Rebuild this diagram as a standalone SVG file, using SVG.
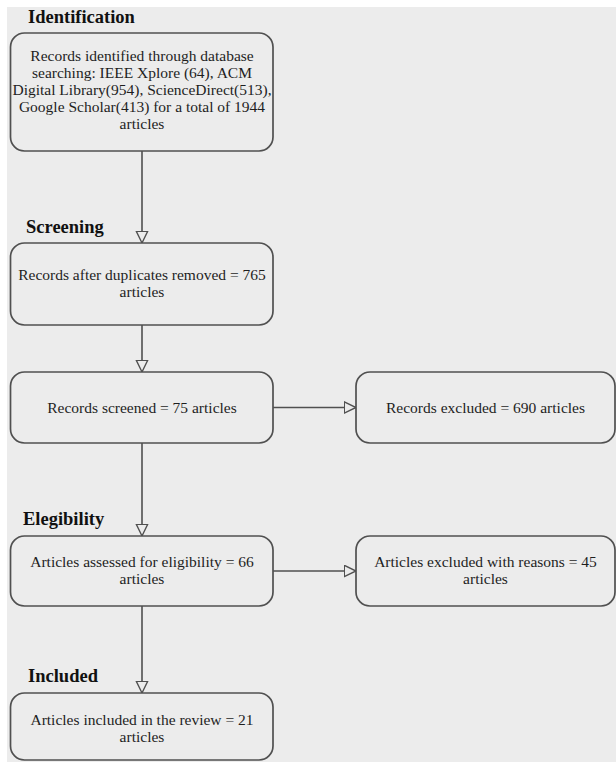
<svg xmlns="http://www.w3.org/2000/svg" width="616" height="762" viewBox="0 0 616 762">
<style>
.box{fill:#ececec;stroke:#505050;stroke-width:1.7}
.t{font-family:"Liberation Serif","Times New Roman",serif;font-size:15.5px;fill:#1e1e1e;text-anchor:middle}
.h{font-family:"Liberation Serif","Times New Roman",serif;font-size:18.5px;font-weight:bold;fill:#111}
.c{stroke:#505050;stroke-width:1.6;fill:none;marker-end:url(#arr)}
</style>
<defs>
<marker id="arr" markerUnits="userSpaceOnUse" markerWidth="15" markerHeight="14" refX="12.5" refY="6.5" orient="auto">
<path d="M0.8,0.8 L12.5,6.5 L0.8,12.2 Z" fill="#ececec" stroke="#505050" stroke-width="1.4"/>
</marker>
</defs>
<rect x="0" y="0" width="616" height="762" fill="#ffffff"/>
<rect x="7" y="7" width="609" height="755" fill="#ececec"/>

<g id="connectors">
<line class="c" x1="142" y1="151" x2="142" y2="243"/>
<line class="c" x1="142" y1="325" x2="142" y2="372"/>
<line class="c" x1="142" y1="443" x2="142" y2="536"/>
<line class="c" x1="142" y1="606" x2="142" y2="693"/>
<line class="c" x1="273" y1="407.5" x2="356" y2="407.5"/>
<line class="c" x1="273" y1="571" x2="356" y2="571"/>
</g>

<g id="label-identification"><text class="h" x="28" y="23">Identification</text></g>
<g id="label-screening"><text class="h" x="26" y="233">Screening</text></g>
<g id="label-eligibility"><text class="h" x="23" y="525">Elegibility</text></g>
<g id="label-included"><text class="h" x="28" y="682">Included</text></g>

<g id="identified">
<rect class="box" x="10.5" y="33" width="262.5" height="118" rx="14"/>
<text class="t" x="142" y="61">Records identified through database</text>
<text class="t" x="142" y="78">searching: IEEE Xplore (64), ACM</text>
<text class="t" x="142" y="95">Digital Library(954), ScienceDirect(513),</text>
<text class="t" x="142" y="112">Google Scholar(413) for a total of 1944</text>
<text class="t" x="142" y="129">articles</text>
</g>

<g id="deduplicated">
<rect class="box" x="10.5" y="243" width="262.5" height="82" rx="14"/>
<text class="t" x="142" y="280">Records after duplicates removed = 765</text>
<text class="t" x="142" y="297">articles</text>
</g>

<g id="screened">
<rect class="box" x="10.5" y="372" width="262.5" height="71" rx="14"/>
<text class="t" x="142" y="413">Records screened = 75 articles</text>
</g>

<g id="excluded">
<rect class="box" x="356" y="372" width="259" height="71" rx="14"/>
<text class="t" x="485.5" y="413">Records excluded = 690 articles</text>
</g>

<g id="assessed">
<rect class="box" x="10.5" y="536" width="262.5" height="70" rx="14"/>
<text class="t" x="142" y="567">Articles assessed for eligibility = 66</text>
<text class="t" x="142" y="584">articles</text>
</g>

<g id="excluded-reasons">
<rect class="box" x="356" y="536" width="259" height="70" rx="14"/>
<text class="t" x="485.5" y="567">Articles excluded with reasons = 45</text>
<text class="t" x="485.5" y="584">articles</text>
</g>

<g id="included">
<rect class="box" x="10.5" y="693" width="262.5" height="67" rx="14"/>
<text class="t" x="142" y="725">Articles included in the review = 21</text>
<text class="t" x="142" y="742">articles</text>
</g>
</svg>
